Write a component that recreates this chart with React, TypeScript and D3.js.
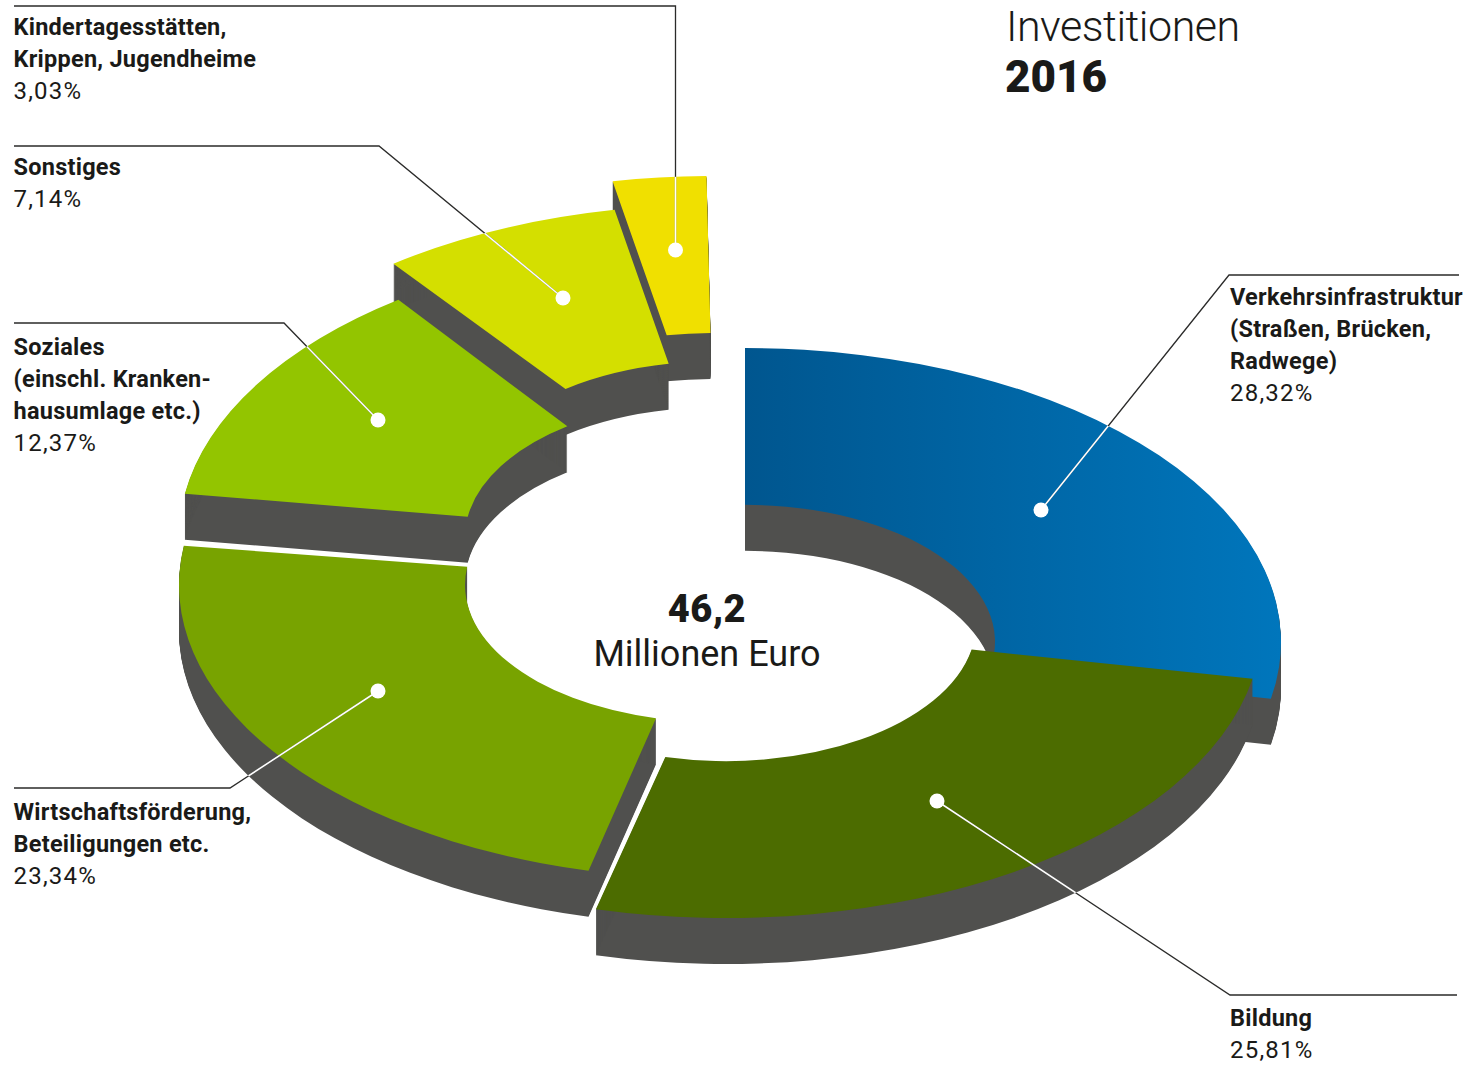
import * as d3 from 'd3';

const categories = ['Verkehrsinfrastruktur', 'Bildung', 'Wirtschaftsförderung', 'Soziales', 'Sonstiges', 'Kindertagesstätten'];
const shares = [28.32, 25.81, 23.34, 12.37, 7.14, 3.03];
const sliceColors = ['url(#blueFade)', '#4c6c00', '#78a300', '#93c500', '#d4df00', '#f0e000'];
const wallColor = '#50504e';
const textColor = '#1a1a18';

// every slice is pulled out of the ring by its own amount
const centers = [[745, 642], [726, 624], [715, 585], [715, 537], [716, 498.5], [714, 470]];
// small corrections of the drawn edges, in degrees
const startNudge = [0, -1.2, -1.2, -0.4, -0.4, 0];
const endNudge = [-0.8, -0.8, -1.2, 0.4, 0, -0.8];
// yellow at the back first, dark green at the front last
const paintOrder = [5, 4, 3, 0, 2, 1];

const labelLines = [
  ['Verkehrsinfrastruktur', '(Straßen, Brücken,', 'Radwege)'],
  ['Bildung'],
  ['Wirtschaftsförderung,', 'Beteiligungen etc.'],
  ['Soziales', '(einschl. Kranken-', 'hausumlage etc.)'],
  ['Sonstiges'],
  ['Kindertagesstätten,', 'Krippen, Jugendheime'],
];
const percentLabels = ['28,32%', '25,81%', '23,34%', '12,37%', '7,14%', '3,03%'];
const labelPos = [[1230, 305], [1230, 1026], [13.5, 820], [13.5, 355], [13.5, 175], [13.5, 35]];
const leaders = [
  [[1459, 275], [1229, 275], [1041, 510]],
  [[1457, 995], [1230, 995], [937, 801]],
  [[14, 788], [230, 788], [378, 691]],
  [[14, 323], [284, 323], [378, 420]],
  [[14, 146], [379, 146], [563, 298]],
  [[14, 6], [675.5, 6], [675.5, 250]],
];

const width = 1464;
const height = 1065;
const outerR = 536;
const innerR = 250;
const squash = 294 / 536;
const depth = 46;
const fontFamily = 'Roboto, sans-serif';
const toRad = Math.PI / 180;

const pie = d3.pie<number>().sort(null).startAngle(0).endAngle(2 * Math.PI);
const arcs = pie(shares).map((d, i) => ({
  ...d,
  startAngle: d.startAngle + startNudge[i] * toRad,
  endAngle: d.endAngle + endNudge[i] * toRad,
}));
const arc = d3.arc<d3.PieArcDatum<number>>().innerRadius(innerR).outerRadius(outerR);
const wallSteps = d3.range(1, depth + 1);
const lineGen = d3.line();

const place = (i: number, dy = 0) =>
  `translate(${centers[i][0]},${centers[i][1] + dy}) scale(1,${squash})`;

const App = () => {
  return (
    <svg width={width} height={height} style={{ position: 'absolute', left: 0, top: 0 }} fontFamily={fontFamily}>
      <defs>
        <linearGradient id="blueFade" gradientUnits="userSpaceOnUse" x1={0} x2={outerR} y1={0} y2={0}>
          <stop offset="0" stopColor="#00568f" />
          <stop offset="1" stopColor="#0076bc" />
        </linearGradient>
        {arcs.map((d, i) => (
          <clipPath id={`slice${i}`} key={i}>
            {[0, ...wallSteps].map(k => (
              <path key={k} d={arc(d) as string} transform={place(i, k)} />
            ))}
          </clipPath>
        ))}
      </defs>

      {paintOrder.map(i => (
        <g key={categories[i]}>
          {wallSteps.map(k => (
            <path key={k} d={arc(arcs[i]) as string} transform={place(i, k)} fill={wallColor} />
          ))}
          <path d={arc(arcs[i]) as string} transform={place(i)} fill={sliceColors[i]} />
        </g>
      ))}

      {leaders.map((pts, i) => (
        <g key={i}>
          <path
            d={lineGen(pts as [number, number][]) as string}
            fill="none"
            stroke="#2b2b2a"
            strokeWidth={1.3}
          />
          <path
            d={lineGen(pts as [number, number][]) as string}
            fill="none"
            stroke="#fff"
            strokeWidth={1.6}
            clipPath={`url(#slice${i})`}
          />
          <circle cx={pts[2][0]} cy={pts[2][1]} r={7.5} fill="#fff" />
        </g>
      ))}

      {labelLines.map((lines, i) => (
        <text key={i} x={labelPos[i][0]} y={labelPos[i][1]} fontSize={23.5} fill={textColor}>
          {lines.map((t, j) => (
            <tspan key={j} x={labelPos[i][0]} dy={j === 0 ? 0 : 32} fontWeight={700} letterSpacing={0.25}>{t}</tspan>
          ))}
          <tspan x={labelPos[i][0]} dy={32} fontWeight={400} fontSize={24} letterSpacing={1.2}>{percentLabels[i]}</tspan>
        </text>
      ))}

      <text x={1006} y={41} fontSize={43} fontWeight={300} letterSpacing={-0.5} fill={textColor}>Investitionen</text>
      <text x={1005} y={92} fontSize={44} fontWeight={900} fill={textColor}>2016</text>
      <text x={707} y={621.5} fontSize={38} fontWeight={900} letterSpacing={0.5} fill={textColor} textAnchor="middle">46,2</text>
      <text x={707} y={666} fontSize={36} fontWeight={400} fill={textColor} textAnchor="middle">Millionen Euro</text>
    </svg>
  );
};

export default App;
